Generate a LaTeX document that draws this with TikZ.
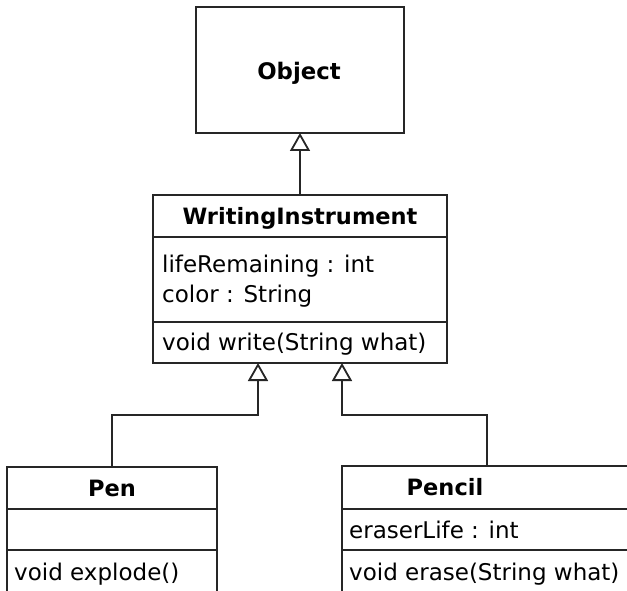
\documentclass[tikz,border=0pt]{standalone}
\usepackage{fontspec}
\setmainfont{DejaVu Sans}
\usetikzlibrary{arrows.meta,calc}
\begin{document}
\begin{tikzpicture}[x=1pt,y=-1pt,
  box/.style={draw=black!85, line width=1.8pt, inner sep=0pt, outer sep=0pt, anchor=north west},
  divider/.style={draw=black!85, line width=1.8pt},
  inh/.style={draw=black!85, line width=1.8pt, -{Triangle[open,length=18pt,width=20pt]}},
  ttl/.style={font=\fontsize{22.5}{27}\selectfont\bfseries, anchor=base, inner sep=0pt},
  bigttl/.style={font=\fontsize{22.8}{27}\selectfont\bfseries, anchor=base, inner sep=0pt},
  attr/.style={font=\fontsize{23}{27}\selectfont, anchor=base west, inner sep=0pt}]
\useasboundingbox (0,0) rectangle (627,591);
\fill[white] (0,0) rectangle (627,591);
\clip (0,0) rectangle (627,591);
% Object
\node[box, minimum width=208pt, minimum height=126pt] (obj) at (196,7) {};
\node[bigttl] (objname) at (299,80) {Object};
% WritingInstrument
\node[box, minimum width=294pt, minimum height=168pt] (wi) at (153,195) {};
\draw[divider] ($(wi.north west)+(0,42)$) -- ($(wi.north east)+(0,42)$);
\draw[divider] ($(wi.north west)+(0,127)$) -- ($(wi.north east)+(0,127)$);
\node[ttl] (winame) at (300,225) {WritingInstrument};
\node[attr] (wia1) at (162,272) {lifeRemaining : int};
\node[attr] (wia2) at (162,302) {color : String};
\node[attr] (wim1) at (162,350) {void write(String what)};
% Pen
\node[box, minimum width=210pt, minimum height=140pt] (pen) at (7,467) {};
\draw[divider] ($(pen.north west)+(0,42)$) -- ($(pen.north east)+(0,42)$);
\draw[divider] ($(pen.north west)+(0,83)$) -- ($(pen.north east)+(0,83)$);
\node[ttl] (penname) at (112,496) {Pen};
\node[attr] (penm1) at (14,580) {void explode()};
% Pencil
\node[box, minimum width=300pt, minimum height=140pt] (pencil) at (342,466) {};
\draw[divider] ($(pencil.north west)+(0,43)$) -- ($(pencil.north east)+(0,43)$);
\draw[divider] ($(pencil.north west)+(0,84)$) -- ($(pencil.north east)+(0,84)$);
\node[ttl] (pencilname) at (445,495) {Pencil};
\node[attr] (pencila1) at (349,538) {eraserLife : int};
\node[attr] (pencilm1) at (349,580) {void erase(String what)};
% connectors
\coordinate (wiL) at (258,363);
\coordinate (wiR) at (342,363);
\coordinate (kL) at (258,415);
\coordinate (kR) at (342,415);
\coordinate (pencilTop) at ($(pencil.north west)+(145,0)$);
\draw[inh] (wi.north) -- (obj.south);
\draw[inh] (pen.north) |- (kL) -- (wiL);
\draw[inh] (pencilTop) |- (kR) -- (wiR);
\end{tikzpicture}
\end{document}
